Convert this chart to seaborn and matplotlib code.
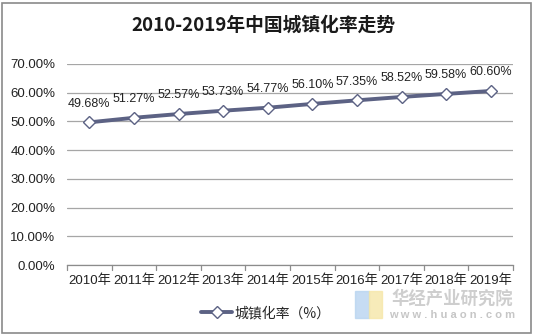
import matplotlib
matplotlib.use("Agg")
import matplotlib.pyplot as plt
import seaborn as sns
import pandas as pd
from matplotlib.patches import Rectangle

years = ["2010年", "2011年", "2012年", "2013年", "2014年", "2015年", "2016年", "2017年", "2018年", "2019年"]
rates = [49.68, 51.27, 52.57, 53.73, 54.77, 56.10, 57.35, 58.52, 59.58, 60.60]
yticks = [0, 10, 20, 30, 40, 50, 60, 70]
title = "2010-2019年中国城镇化率走势"
series_name = "城镇化率（%）"

sns.set_theme(style="white")
plt.rcParams['font.family'] = ['Liberation Sans', 'Noto Sans CJK SC', 'DejaVu Sans']

df = pd.DataFrame({"year": years, "rate": rates})

W, H = 533, 335
fig = plt.figure(figsize=(W / 100, H / 100), dpi=100)
L, R, T, B = 67, 513, 64, 265
ax = fig.add_axes([L / W, 1 - B / H, (R - L) / W, (B - T) / H])

line_color = "#5c6284"
sns.lineplot(data=df, x="year", y="rate", ax=ax, color=line_color, lw=2.8,
             marker="D", markersize=6.5, markerfacecolor="white",
             markeredgecolor=line_color, markeredgewidth=1.0, sort=False,
             label=series_name)

ax.set_ylim(0, 70)
ax.set_xlim(-0.5, len(years) - 0.5)
ax.set_yticks(yticks)
ax.set_yticklabels([f"{v:.2f}%" for v in yticks], fontsize=9.5, color="#222222")
ax.tick_params(axis="y", length=0, pad=8.5)
ax.set_xticks(range(len(years)))
ax.set_xticklabels(years, fontsize=9.5, color="#222222")
ax.tick_params(axis="x", length=0, pad=7)
# tick marks at category boundaries
for b in [i - 0.5 for i in range(len(years) + 1)]:
    ax.plot([b, b], [0, -1.6], color="#8c8c8c", lw=0.9, clip_on=False)
ax.yaxis.grid(True, color="#a6a6a6", lw=0.9)
ax.set_axisbelow(True)
for s in ["top", "right", "left"]:
    ax.spines[s].set_visible(False)
ax.spines["bottom"].set_color("#8c8c8c")
ax.spines["bottom"].set_linewidth(0.9)
ax.set_xlabel("")
ax.set_ylabel("")

for i, v in enumerate(rates):
    ax.annotate(f"{v:.2f}%", (i, v), xytext=(0, 13.5), textcoords="offset points",
                ha="center", va="center", fontsize=9, color="#222222")

leg = ax.legend(loc="center", bbox_to_anchor=(266 / W, 1 - 313 / H),
                bbox_transform=fig.transFigure, frameon=False,
                handlelength=2.2, handletextpad=0.2,
                prop={'family': ['Noto Sans CJK SC', 'DejaVu Sans'], 'size': 10})

fig.text(263 / W, 1 - 25 / H, title, ha="center", va="center", fontsize=13.5,
         fontweight="bold", family=['Noto Sans CJK SC', 'DejaVu Sans'], color="#1a1a1a")

# watermark
fig.patches.append(Rectangle((355 / W, 1 - 318 / H), 14 / W, 27 / H, transform=fig.transFigure,
                             color="#b8d4f0", alpha=0.8, zorder=0))
fig.patches.append(Rectangle((369 / W, 1 - 318 / H), 13 / W, 27 / H, transform=fig.transFigure,
                             color="#f6e7a8", alpha=0.8, zorder=0))
fig.text(452 / W, 1 - 299 / H, "华经产业研究院", ha="center", va="center", fontsize=12.5,
         fontweight="bold", family=['Noto Sans CJK SC'], color="#c9c9c9", alpha=0.9)
fig.text(452 / W, 1 - 315 / H, "w w w . h u a o n . c o m", ha="center", va="center", fontsize=8,
         fontweight="bold", color="#c0c0c0", alpha=0.9)

# outer border
fig.patches.append(Rectangle((2 / W, 2 / H), 529 / W, 330 / H, transform=fig.transFigure,
                             fill=False, edgecolor="#8a8a8a", lw=1.2))

fig.savefig("out.png", dpi=100)
